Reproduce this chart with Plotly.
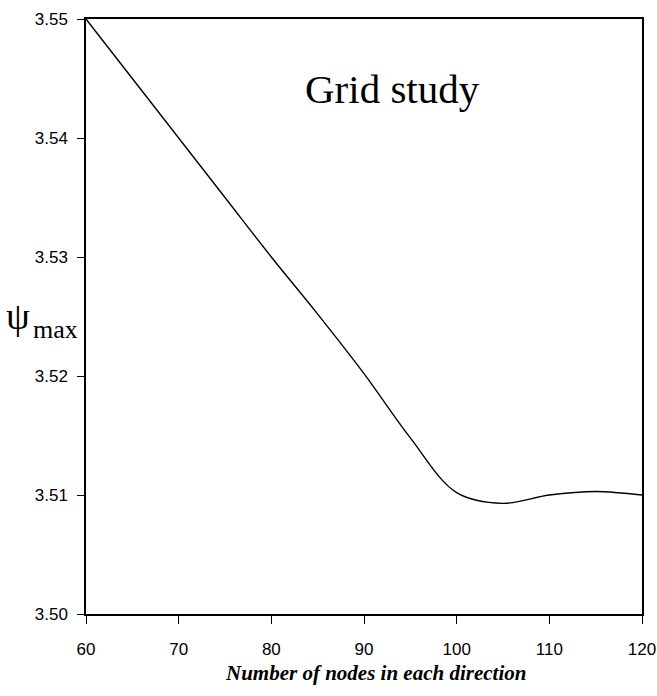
import plotly.graph_objects as go

# Data
nodes = [60, 65, 70, 75, 80, 85, 90, 95, 100, 105, 110, 115, 120]
psi_max = [3.550, 3.545, 3.540, 3.535, 3.530, 3.5252, 3.5202, 3.5148, 3.5102,
           3.5093, 3.5100, 3.5103, 3.5100]
x_ticks = [60, 70, 80, 90, 100, 110, 120]
y_ticks = [3.50, 3.51, 3.52, 3.53, 3.54, 3.55]

W, H = 657, 696
L, R, T, B = 86, 15, 19, 82
pw, ph = W - L - R, H - T - B

def px(xp):
    return (xp - L) / pw

def py(yp):
    return (H - B - yp) / ph

tick_font = dict(family="Liberation Sans Narrow, Arial Narrow, Liberation Sans, Arial", size=17, color="black")
serif = "Liberation Serif, Times New Roman, serif"

fig = go.Figure()
fig.add_trace(go.Scatter(x=nodes, y=psi_max, mode="lines",
                         line=dict(color="black", width=1.4, shape="spline", smoothing=1.0),
                         showlegend=False, hoverinfo="skip", cliponaxis=False))

fig.update_xaxes(range=[60, 120.0001], tickvals=x_ticks, ticktext=[str(v) for v in x_ticks],
                 showline=True, linecolor="black", linewidth=1.5, mirror=True,
                 ticks="outside", ticklen=8, tickwidth=1.2, tickcolor="black",
                 showgrid=False, zeroline=False, tickfont=tick_font, ticklabelstandoff=11,
                 ticklabeloverflow="allow", automargin=False)
fig.update_yaxes(range=[3.50, 3.55], tickvals=y_ticks, ticktext=[f"{v:.2f}" for v in y_ticks],
                 showline=True, linecolor="black", linewidth=1.5, mirror=True,
                 ticks="outside", ticklen=7, tickwidth=1.2, tickcolor="black",
                 showgrid=False, zeroline=False, tickfont=tick_font, ticklabelstandoff=6,
                 automargin=False)

annotations = [
    dict(text="Grid study", x=px(392), y=py(89), xref="paper", yref="paper",
         xanchor="center", yanchor="middle", showarrow=False,
         font=dict(family=serif, size=41, color="black")),
    dict(text="ψ", x=px(18), y=py(316), xref="paper", yref="paper",
         xanchor="center", yanchor="middle", showarrow=False,
         font=dict(family=serif, size=38, color="black")),
    dict(text="max", x=px(31), y=py(330), xref="paper", yref="paper",
         xanchor="left", yanchor="middle", showarrow=False,
         font=dict(family=serif, size=26, color="black")),
    dict(text="<b><i>Number of nodes in each direction</i></b>", x=px(375), y=py(673),
         xref="paper", yref="paper", xanchor="center", yanchor="middle", showarrow=False,
         font=dict(family=serif, size=21, color="black")),
]

fig.update_layout(width=W, height=H, margin=dict(l=L, r=R, t=T, b=B, pad=0, autoexpand=False),
                  plot_bgcolor="white", paper_bgcolor="white",
                  annotations=annotations)

fig.write_html("out.html")
